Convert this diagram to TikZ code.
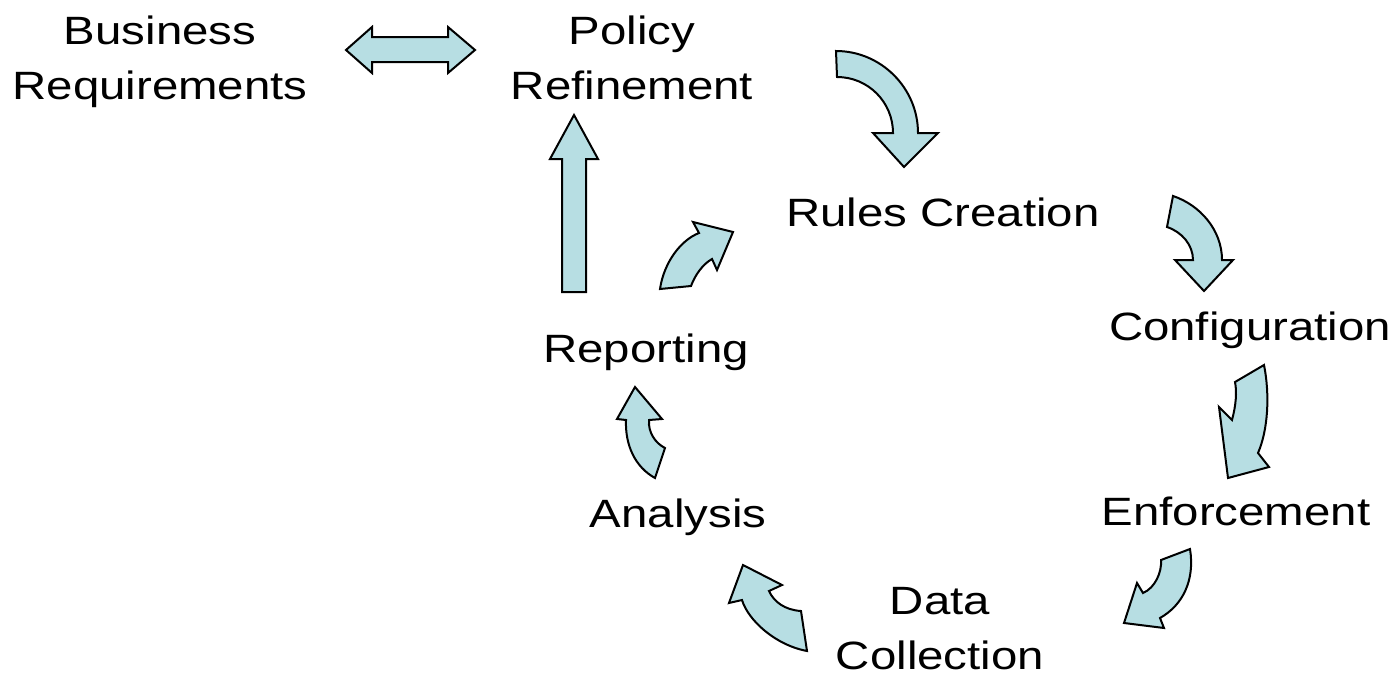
\documentclass[tikz,border=0pt]{standalone}
\usepackage{fontspec}
\setmainfont{Liberation Sans}[FakeStretch=1.2]
\definecolor{arrowfill}{RGB}{183,222,227}
\usepackage{tikz}

\tikzset{
    blockarrow/.style={draw=black, line width=2pt, fill=arrowfill, line join=miter},
    lbl/.style={font=\fontsize{39.5}{55}\selectfont, align=center, anchor=base, inner sep=0pt}
}

\begin{document}
\begin{tikzpicture}[x=1pt,y=-1pt]
                \useasboundingbox (0,0) rectangle (1397,680);
                % labels
                \node[lbl] (business) at (160,99) {Business\\Requirements};
                \node[lbl] (policy) at (632,99) {Policy\\Refinement};
                \node[lbl] (rules) at (943,226) {Rules Creation};
                \node[lbl] (config) at (1250,340) {Configuration};
                \node[lbl] (reporting) at (646,362) {Reporting};
                \node[lbl] (analysis) at (678,527) {Analysis};
                \node[lbl] (enforce) at (1236,525) {Enforcement};
                \node[lbl] (datacoll) at (940,669) {Data\\Collection};
                % block arrows
                \draw[blockarrow] (346,50) -- (372,27) -- (372,37) -- (448,37) -- (448,27) -- (475,50)
                    -- (448,73) -- (448,62) -- (372,62) -- (372,73) -- cycle;
                \draw[blockarrow] (562,292) -- (562,159) -- (550,159) -- (574,115) -- (598,159)
                    -- (586,159) -- (586,292) -- cycle;
                \draw[blockarrow] (836,51) .. controls (881,51) and (918,88) .. (918,133) -- (938,133)
                    -- (904,167) -- (873,133) -- (893,133) .. controls (893,102) and (868,77) .. (837,77) -- cycle;
                \draw[blockarrow] (1173,196) .. controls (1200,205) and (1222,230) .. (1222,260) -- (1233,260)
                    -- (1204,291) -- (1175,260) -- (1193,260) .. controls (1193,245) and (1182,232) .. (1167,227) -- cycle;
                \draw[blockarrow] (1264,365) .. controls (1270,395) and (1268,430) .. (1258,453) -- (1269,467)
                    -- (1228,478) -- (1219,407) -- (1232,420) .. controls (1236,405) and (1237,392) .. (1235,382) -- cycle;
                \draw[blockarrow] (1190,549) .. controls (1195,580) and (1183,605) .. (1160,618) -- (1164,628)
                    -- (1124,623) -- (1137,583) -- (1143,593) .. controls (1155,588) and (1162,572) .. (1161,560) -- cycle;
                \draw[blockarrow] (801,611) .. controls (785,610) and (774,602) .. (769,591) -- (782,585)
                    -- (743,565) -- (729,603) -- (742,600) .. controls (748,620) and (775,645) .. (807,651) -- cycle;
                \draw[blockarrow] (665,448) .. controls (655,443) and (648,432) .. (649,420) -- (662,419)
                    -- (635,387) -- (617,419) -- (626,420) .. controls (625,445) and (635,467) .. (655,478) -- cycle;
                \draw[blockarrow] (691,286) .. controls (695,275) and (703,264) .. (712,259) -- (717,270)
                    -- (733,232) -- (693,222) -- (699,233) .. controls (681,240) and (664,262) .. (660,289) -- cycle;
            \end{tikzpicture}
\end{document}
